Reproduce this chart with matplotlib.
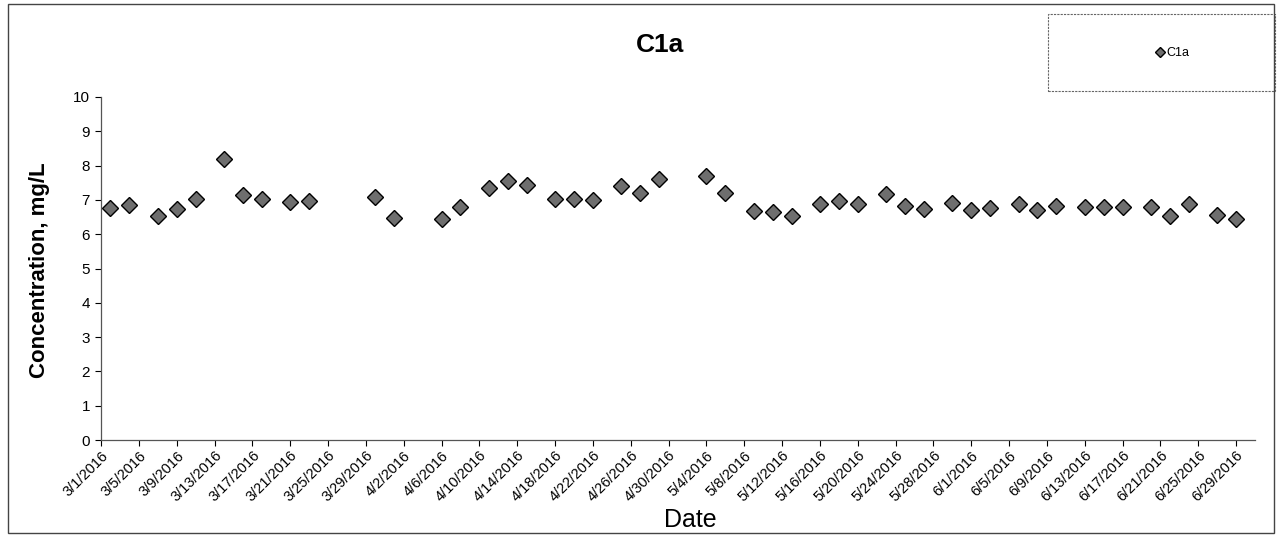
"""Scatter of C1a concentration over time, Excel-style chart."""

import datetime as dt

import matplotlib

matplotlib.use("Agg")
import matplotlib.dates as mdates
import matplotlib.pyplot as plt
from matplotlib.patches import Rectangle

plt.rcParams["font.family"] = ["Liberation Sans", "DejaVu Sans"]

# sample dates (month, day) in 2016
sample_days = [
    (3, 2), (3, 4), (3, 7), (3, 9), (3, 11), (3, 14), (3, 16), (3, 18),
    (3, 21), (3, 23), (3, 30), (4, 1), (4, 6), (4, 8), (4, 11), (4, 13),
    (4, 15), (4, 18), (4, 20), (4, 22), (4, 25), (4, 27), (4, 29), (5, 4),
    (5, 6), (5, 9), (5, 11), (5, 13), (5, 16), (5, 18), (5, 20), (5, 23),
    (5, 25), (5, 27), (5, 30), (6, 1), (6, 3), (6, 6), (6, 8), (6, 10),
    (6, 13), (6, 15), (6, 17), (6, 20), (6, 22), (6, 24), (6, 27), (6, 29),
]
concentration = [
    6.77, 6.84, 6.54, 6.74, 7.03, 8.19, 7.13, 7.03,
    6.93, 6.97, 7.07, 6.46, 6.43, 6.79, 7.36, 7.55,
    7.44, 7.04, 7.04, 6.99, 7.40, 7.19, 7.60, 7.69,
    7.21, 6.68, 6.64, 6.53, 6.87, 6.96, 6.88, 7.17,
    6.81, 6.73, 6.92, 6.72, 6.77, 6.88, 6.71, 6.83,
    6.79, 6.79, 6.80, 6.78, 6.53, 6.87, 6.56, 6.43,
]
series_name = "C1a"

dates = [dt.date(2016, m, d) for m, d in sample_days]
tick_dates = [dt.date(2016, 3, 1) + dt.timedelta(days=4 * i) for i in range(31)]

fig = plt.figure(figsize=(12.78, 5.35), dpi=100)
W, H = 1278, 535
ax = fig.add_axes([101 / W, 1 - 440 / H, 1154 / W, (440 - 97) / H])

ax.plot(
    dates, concentration, linestyle="none", marker="D", markersize=8,
    markerfacecolor="#6e6e6e", markeredgecolor="black", markeredgewidth=1.0,
    label=series_name,
)

ax.set_xlim(dt.date(2016, 3, 1), dt.date(2016, 7, 1))
ax.set_ylim(0, 10)
ax.set_yticks(range(0, 11))
ax.set_xticks(tick_dates)
ax.xaxis.set_major_formatter(
    matplotlib.ticker.FuncFormatter(
        lambda v, _: "{0.month}/{0.day}/{0.year}".format(mdates.num2date(v))
    )
)
for lbl in ax.get_xticklabels():
    lbl.set_rotation(45)
    lbl.set_ha("right")
    lbl.set_rotation_mode("anchor")
ax.tick_params(axis="x", labelsize=10.5, length=4, direction="out", pad=2)
ax.tick_params(axis="y", labelsize=11, length=4, direction="out", pad=4)

for side in ("top", "right"):
    ax.spines[side].set_visible(False)
for side in ("left", "bottom"):
    ax.spines[side].set_color("#555555")
    ax.spines[side].set_linewidth(0.9)

fig.text(690 / W, 1 - 520 / H, "Date", fontsize=18, ha="center", va="center")
fig.text(40 / W, 1 - 270 / H, "Concentration, mg/L", fontsize=16,
         fontweight="bold", rotation=90, ha="center", va="center")
fig.text(660 / W, 1 - 45 / H, series_name, fontsize=19, fontweight="bold",
         ha="center", va="center")

# legend box in top right
fig.patches.append(Rectangle((1048 / W, 1 - 91 / H), 227 / W, 77 / H,
                             transform=fig.transFigure, fill=False,
                             edgecolor="#666666", linewidth=0.8, linestyle=(0, (2, 1))))
leg = fig.legend(loc="center", bbox_to_anchor=(1172 / W, 1 - 53 / H),
                 frameon=False, fontsize=9, handletextpad=0.1, handlelength=0.8,
                 markerscale=0.65)

# outer chart border
fig.patches.append(Rectangle((8 / W, 2 / H), 1266 / W, 529 / H,
                             transform=fig.transFigure, fill=False,
                             edgecolor="#444444", linewidth=1.0))

fig.savefig("out.png", dpi=100)
